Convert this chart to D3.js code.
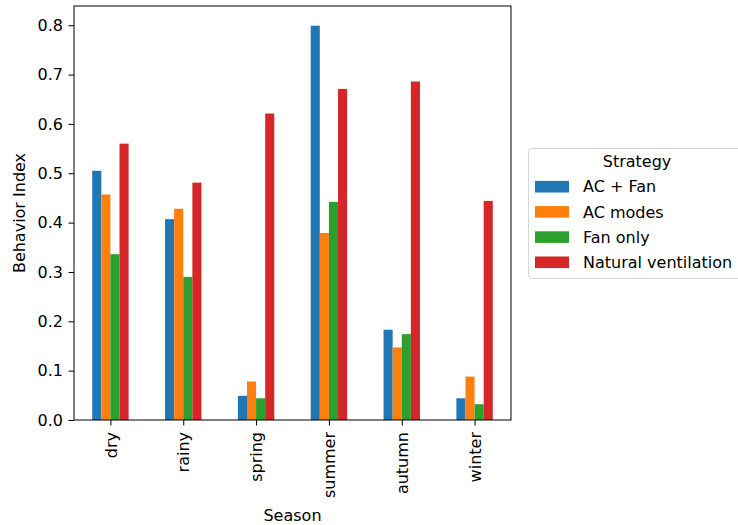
<!DOCTYPE html>
<html>
<head>
<meta charset="utf-8">
<script src="https://cdn.jsdelivr.net/npm/d3@7"></script>
<style>
  body { margin: 0; background: #fff; }
  svg { display: block; font-family: "DejaVu Sans", sans-serif; }
</style>
</head>
<body>
<svg id="chart" width="738" height="525"></svg>
<script>
const seasons = ["dry", "rainy", "spring", "summer", "autumn", "winter"];
const strategies = ["AC + Fan", "AC modes", "Fan only", "Natural ventilation"];
const acFan   = [0.505, 0.407, 0.049, 0.799, 0.183, 0.044];
const acModes = [0.457, 0.428, 0.078, 0.379, 0.147, 0.088];
const fanOnly = [0.336, 0.290, 0.044, 0.442, 0.174, 0.032];
const natural = [0.560, 0.481, 0.621, 0.671, 0.686, 0.444];
const seriesValues = [acFan, acModes, fanOnly, natural];
const colors = ["#1f77b4", "#ff7f0e", "#2ca02c", "#d62728"];
const yTicks = [0.0, 0.1, 0.2, 0.3, 0.4, 0.5, 0.6, 0.7, 0.8];

const FS = "16px";
const svg = d3.select("#chart");
const L = 74, R = 511, T = 6, B = 420;

const x = d3.scaleLinear().domain([-0.5, seasons.length - 0.5]).range([L, R]);
const maxV = d3.max(seriesValues.flat());
const y = d3.scaleLinear().domain([0, maxV * 1.05]).range([B, T]);

const groupW = 0.5, barW = groupW / strategies.length;

// bars
seriesValues.forEach((vals, si) => {
  svg.append("g").selectAll("rect").data(vals).join("rect")
    .attr("x", (d, i) => x(i - groupW / 2 + si * barW))
    .attr("width", x(barW) - x(0))
    .attr("y", d => y(d))
    .attr("height", d => y(0) - y(d))
    .attr("fill", colors[si]);
});

// y axis
const yAxis = d3.axisLeft(y).tickValues(yTicks).tickFormat(d3.format(".1f")).tickSize(5.5).tickPadding(5.5);
const gy = svg.append("g").attr("transform", `translate(${L},0)`).call(yAxis);
gy.select(".domain").remove();
gy.selectAll("line").attr("stroke", "#000").attr("stroke-width", 1);
gy.selectAll("text").attr("font-size", FS).attr("fill", "#000").attr("font-family", "DejaVu Sans");

// x axis
const xAxis = d3.axisBottom(x).tickValues(d3.range(seasons.length)).tickFormat(i => seasons[i]).tickSize(5.5);
const gx = svg.append("g").attr("transform", `translate(0,${B})`).call(xAxis);
gx.select(".domain").remove();
gx.selectAll("line").attr("stroke", "#000").attr("stroke-width", 1);
gx.selectAll("text")
  .attr("font-size", FS).attr("fill", "#000").attr("font-family", "DejaVu Sans")
  .attr("transform", "rotate(-90)")
  .attr("text-anchor", "end")
  .attr("x", -12).attr("y", 0).attr("dy", "0.35em");

// frame
svg.append("rect").attr("x", L).attr("y", T).attr("width", R - L).attr("height", B - T)
  .attr("fill", "none").attr("stroke", "#000").attr("stroke-width", 1);

// axis labels
svg.append("text").attr("x", (L + R) / 2).attr("y", 521).attr("text-anchor", "middle")
  .attr("font-size", FS).text("Season");
svg.append("text").attr("transform", `translate(25,${(T + B) / 2}) rotate(-90)`)
  .attr("text-anchor", "middle").attr("font-size", FS).text("Behavior Index");

// legend
const lg = svg.append("g");
lg.append("rect").attr("x", 528.5).attr("y", 148.5).attr("width", 240).attr("height", 130)
  .attr("rx", 3).attr("fill", "#fff").attr("stroke", "#d6d6d6").attr("stroke-width", 1);
lg.append("text").attr("x", 637).attr("y", 161.5).attr("dy", "0.35em").attr("text-anchor", "middle")
  .attr("font-size", FS).text("Strategy");
strategies.forEach((s, i) => {
  const cy = 186.7 + i * 25.2;
  lg.append("rect").attr("x", 535).attr("y", cy - 5.8).attr("width", 34).attr("height", 11.6).attr("fill", colors[i]);
  lg.append("text").attr("x", 583).attr("y", cy).attr("dy", "0.35em").attr("font-size", FS).text(s);
});
</script>
</body>
</html>
